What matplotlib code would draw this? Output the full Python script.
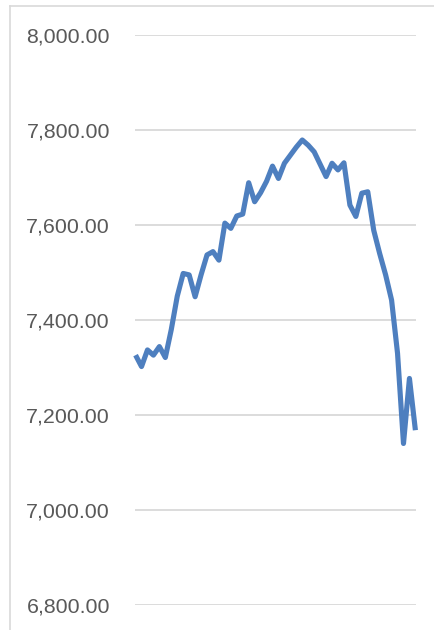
import matplotlib.pyplot as plt
from matplotlib.lines import Line2D
from matplotlib.ticker import FuncFormatter

# values (one point per period)
values = [7326, 7302, 7337, 7326, 7344, 7321, 7380, 7450, 7498, 7495,
          7449, 7495, 7537, 7544, 7526, 7604, 7593, 7619, 7623, 7689,
          7649, 7668, 7692, 7724, 7698, 7730, 7747, 7764, 7779, 7768,
          7754, 7728, 7702, 7730, 7716, 7731, 7642, 7618, 7667, 7670,
          7589, 7540, 7495, 7442, 7330, 7140, 7277, 7168]
y_ticks = [6800, 7000, 7200, 7400, 7600, 7800, 8000]

fig = plt.figure(figsize=(4.34, 6.3), dpi=100)
ax = fig.add_axes([0.311, 0.0397, 0.6475, 0.9047])

x = list(range(len(values)))
ax.plot(x, values, color='#4E7FBF', lw=3.7, solid_joinstyle='round', solid_capstyle='butt',
        zorder=3, clip_on=False)

ax.set_xlim(-0.1, len(values) - 0.9)
ax.set_ylim(6800, 8000)
ax.set_yticks(y_ticks)
ax.yaxis.set_major_formatter(FuncFormatter(lambda v, p: f'{v:,.2f}'))
ax.grid(axis='y', color='#D9D9D9', lw=1.3)
ax.set_axisbelow(True)
ax.tick_params(axis='y', length=0, pad=18, labelsize=15.4, labelcolor='#595959')
ax.tick_params(axis='x', length=0, labelbottom=False)
for s in ax.spines.values():
    s.set_visible(False)
for lbl in ax.get_yticklabels():
    lbl.set_fontfamily('Liberation Sans')

# outer chart frame (left and top edges visible in the crop)
fig.add_artist(Line2D([10 / 434, 10 / 434], [0, 1 - 5.5 / 630], transform=fig.transFigure, color='#D9D9D9', lw=1.2))
fig.add_artist(Line2D([10 / 434, 1], [1 - 5.5 / 630, 1 - 5.5 / 630], transform=fig.transFigure, color='#D9D9D9', lw=1.2))

fig.savefig('out.png', dpi=100)
